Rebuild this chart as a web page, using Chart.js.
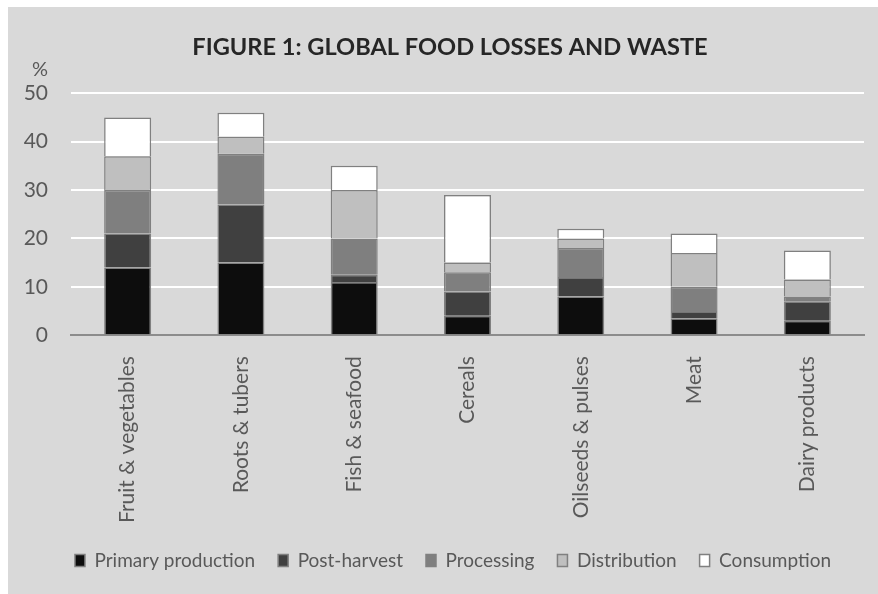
<!DOCTYPE html>
<html>
<head>
<meta charset="utf-8">
<script src="https://cdn.jsdelivr.net/npm/chart.js@4"></script>
<style>
  html, body { margin: 0; padding: 0; background: #ffffff; }
  #wrap { position: absolute; left: 8px; top: 7px; width: 870px; height: 587px; background: #d9d9d9; }
</style>
</head>
<body>
<div id="wrap"><canvas id="chart" width="870" height="587"></canvas></div>
<script>
const categories = ["Fruit & vegetables", "Roots & tubers", "Fish & seafood", "Cereals", "Oilseeds & pulses", "Meat", "Dairy products"];
const stages = ["Primary production", "Post-harvest", "Processing", "Distribution", "Consumption"];

// share of each commodity lost at each stage, in %
const primaryProduction = [14, 15, 11, 4, 8, 3.5, 3];
const postHarvest = [7, 12, 1.5, 5, 4, 1.5, 4];
const processing = [9, 10.5, 7.5, 4, 6, 5, 1];
const distribution = [7, 3.5, 10, 2, 2, 7, 3.5];
const consumption = [8, 5, 5, 14, 2, 4, 6];

const yTicks = [0, 10, 20, 30, 40, 50];

const fills = ["#0d0d0d", "#404040", "#7f7f7f", "#bfbfbf", "#ffffff"];
const series = [primaryProduction, postHarvest, processing, distribution, consumption];

const FONT = "Lato";
const TEXT = "#595959";

// "%" unit label above the value axis, plus a small nudge of title and legend
const extras = {
  id: "extras",
  afterLayout(chart) {
    chart.legend.left += 17;
    chart.legend.right += 17;
    chart.legend.top -= 8;
    chart.legend.bottom -= 8;
    chart.titleBlock.left += 14;
    chart.titleBlock.right += 14;
  },
  afterDraw(chart) {
    const y = chart.scales.y;
    const ctx = chart.ctx;
    ctx.save();
    ctx.font = "20px " + FONT;
    ctx.fillStyle = TEXT;
    ctx.textAlign = "right";
    ctx.textBaseline = "bottom";
    ctx.fillText("%", y.right - 23, y.top - 14);
    ctx.restore();
  }
};

new Chart(document.getElementById("chart"), {
  type: "bar",
  data: {
    labels: categories,
    datasets: stages.map((name, i) => ({
      label: name,
      data: series[i],
      backgroundColor: fills[i],
      borderColor: "#808080",
      borderWidth: 1.5,
      barPercentage: 0.415,
      categoryPercentage: 1
    }))
  },
  options: {
    responsive: false,
    animation: false,
    layout: { padding: { left: 0, right: 14, top: 14, bottom: 6 } },
    plugins: {
      title: {
        display: true,
        text: "FIGURE 1: GLOBAL FOOD LOSSES AND WASTE",
        color: "#262626",
        font: { family: FONT, size: 23.6, weight: "bold" },
        padding: { top: 12, bottom: 32 }
      },
      legend: {
        position: "bottom",
        labels: {
          color: TEXT,
          font: { family: FONT, size: 19 },
          boxWidth: 10,
          boxHeight: 12,
          padding: 23
        }
      },
      tooltip: { enabled: false }
    },
    scales: {
      x: {
        stacked: true,
        grid: { display: false },
        border: { color: "#8c8c8c", width: 2 },
        ticks: {
          color: TEXT,
          font: { family: FONT, size: 21 },
          minRotation: 90,
          maxRotation: 90,
          padding: 13
        }
      },
      y: {
        stacked: true,
        min: 0,
        max: 50,
        afterBuildTicks(axis) { axis.ticks = yTicks.map(v => ({ value: v })); },
        afterFit(axis) { axis.width = 63; },
        border: { display: false },
        grid: {
          color: ctx => ctx.tick.value === 0 ? "#8c8c8c" : "#ffffff",
          lineWidth: 2,
          drawTicks: false
        },
        ticks: {
          color: TEXT,
          font: { family: FONT, size: 21 },
          padding: 23
        }
      }
    }
  },
  plugins: [extras]
});
</script>
</body>
</html>
